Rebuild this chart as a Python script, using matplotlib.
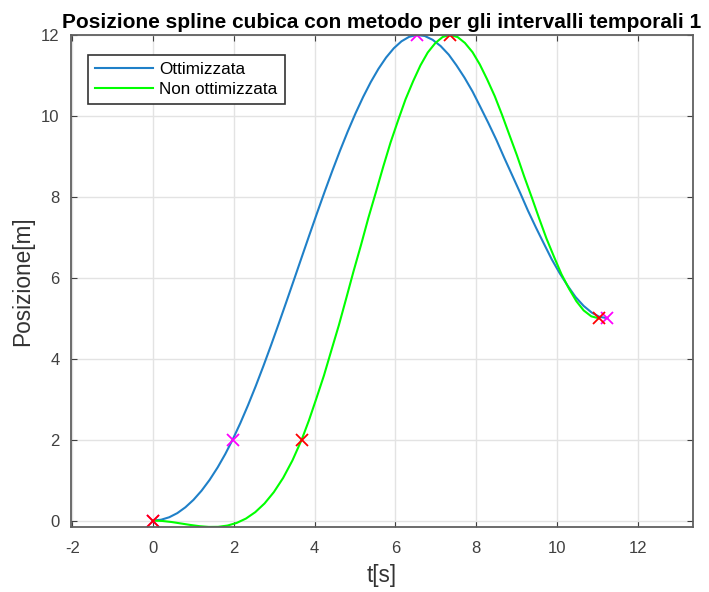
import matplotlib.pyplot as plt

# spline ottimizzata (tempi dei nodi ottimizzati)
t_ott = [0, 0.2, 0.4, 0.6, 0.8, 1.0, 1.2, 1.4, 1.6, 1.785,
         1.97, 2.16, 2.35, 2.54, 2.73, 2.92, 3.11, 3.30, 3.49, 3.68,
         3.87, 4.06, 4.25, 4.44, 4.63, 4.82, 5.01, 5.20, 5.39, 5.58,
         5.77, 5.96, 6.15, 6.34, 6.53, 6.725, 6.92, 7.12, 7.32, 7.51,
         7.71, 7.91, 8.10, 8.30, 8.50, 8.69, 8.89, 9.09, 9.28, 9.48,
         9.68, 9.87, 10.07, 10.27, 10.46, 10.66, 10.86, 11.05, 11.25]
q_ott = [0, 0.020, 0.081, 0.183, 0.327, 0.511, 0.737, 1.005, 1.315, 1.639,
         2.0, 2.407, 2.849, 3.319, 3.815, 4.331, 4.863, 5.406, 5.955, 6.508,
         7.058, 7.601, 8.133, 8.649, 9.146, 9.617, 10.059, 10.467, 10.837, 11.164,
         11.444, 11.672, 11.844, 11.955, 12.0, 11.976, 11.882, 11.726, 11.514, 11.252,
         10.946, 10.602, 10.227, 9.826, 9.406, 8.974, 8.535, 8.095, 7.661, 7.239,
         6.835, 6.456, 6.107, 5.794, 5.524, 5.304, 5.139, 5.035, 5.0]

# spline non ottimizzata (intervalli uguali)
t_non = [0, 0.23, 0.46, 0.69, 0.92, 1.15, 1.38, 1.61, 1.84, 2.07,
         2.30, 2.53, 2.76, 2.99, 3.22, 3.45, 3.68, 3.86, 4.04, 4.23,
         4.41, 4.60, 4.78, 4.96, 5.15, 5.33, 5.52, 5.70, 5.88, 6.07,
         6.25, 6.44, 6.62, 6.80, 6.99, 7.17, 7.35, 7.54, 7.72, 7.91,
         8.09, 8.27, 8.46, 8.64, 8.82, 9.01, 9.19, 9.38, 9.56, 9.74,
         9.93, 10.11, 10.30, 10.48, 10.66, 10.85, 11.03]
q_non = [0, -0.011, -0.037, -0.073, -0.109, -0.140, -0.158, -0.156, -0.125, -0.059,
         0.049, 0.207, 0.422, 0.702, 1.053, 1.484, 2.0, 2.479, 3.009, 3.583,
         4.192, 4.829, 5.484, 6.149, 6.817, 7.479, 8.126, 8.751, 9.345, 9.901,
         10.409, 10.861, 11.250, 11.567, 11.803, 11.951, 12.0, 11.949, 11.804, 11.574,
         11.271, 10.905, 10.487, 10.026, 9.535, 9.021, 8.498, 7.974, 7.462, 6.969,
         6.510, 6.090, 5.725, 5.421, 5.193, 5.046, 5.0]

# punti di passaggio
nodi_t_ott = [0, 1.97, 6.53, 11.25]
nodi_t_non = [0, 3.68, 7.35, 11.03]
nodi_q = [0, 2, 12, 5]

xticks = [-2, 0, 2, 4, 6, 8, 10, 12]
yticks = [0, 2, 4, 6, 8, 10, 12]


def main():
    plt.rcParams['font.family'] = ['Liberation Sans', 'DejaVu Sans']
    plt.rcParams['axes.unicode_minus'] = False
    fig = plt.figure(figsize=(7.09, 5.92), dpi=100)
    ax = fig.add_axes([0.0997, 0.1098, 0.8773, 0.8311])

    ax.plot(t_ott, q_ott, color='#1f80c8', lw=1.5, label='Ottimizzata')
    ax.plot(t_non, q_non, color='#00FF00', lw=1.5, label='Non ottimizzata')
    ax.plot(nodi_t_ott, nodi_q, 'x', color='#FF00FF', ms=8, mew=1.3)
    ax.plot(nodi_t_non, nodi_q, 'x', color='#FF0000', ms=8, mew=1.3)

    ax.set_xlim(-2.04, 13.36)
    ax.set_ylim(-0.16, 12)
    ax.set_xticks(xticks)
    ax.set_yticks(yticks)
    ax.grid(True, color='#e3e3e3', lw=1)
    ax.set_axisbelow(True)
    ax.tick_params(direction='in', length=4, top=True, right=True,
                   labelsize=12, colors='#404040', pad=8)
    ax.tick_params(axis='x', pad=10)
    for s in ax.spines.values():
        s.set_color('#606060')
        s.set_linewidth(1.3)

    ax.set_xlabel('t[s]', fontsize=16.3, color='#333333', labelpad=6)
    ax.set_ylabel('Posizione[m]', fontsize=16.3, color='#333333', labelpad=5)
    ax.set_title('Posizione spline cubica con metodo per gli intervalli temporali 1',
                 fontsize=15, fontweight='bold', pad=5)

    leg = ax.legend(loc='upper left', bbox_to_anchor=(0.0273, 0.959), borderaxespad=0,
                    fontsize=12.3, handlelength=3.4, handletextpad=0.4,
                    labelspacing=0.32, borderpad=0.4, fancybox=False, framealpha=1)
    leg.get_frame().set_edgecolor('#333333')
    leg.get_frame().set_linewidth(1.2)

    plt.savefig('out.png', dpi=100)


if __name__ == "__main__":
    main()
